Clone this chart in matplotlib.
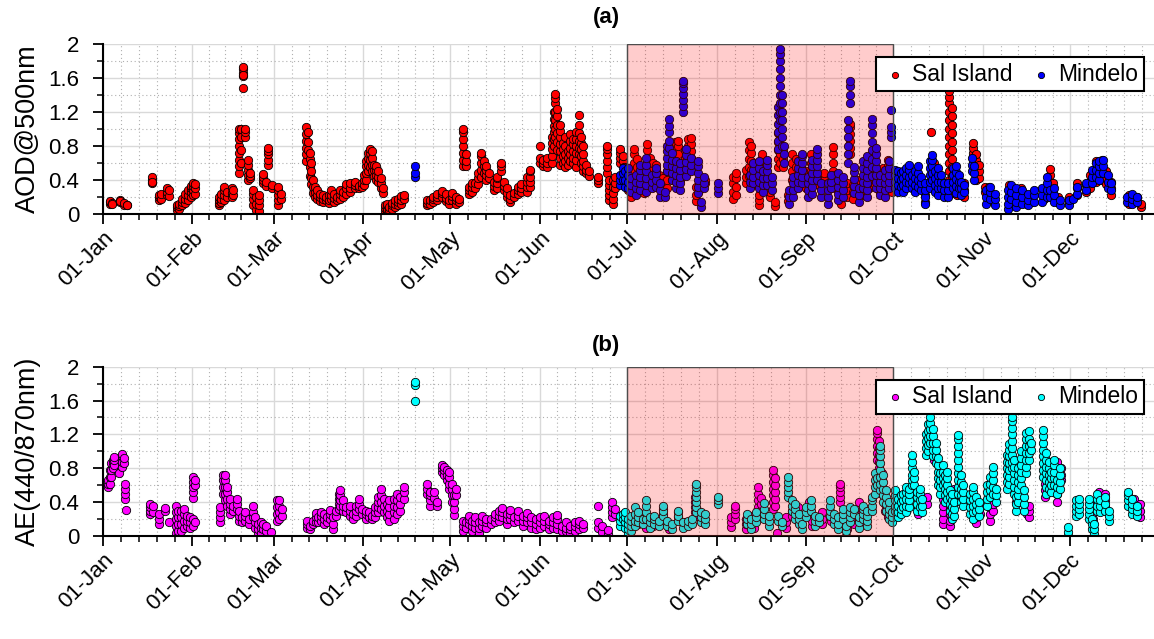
import matplotlib
matplotlib.use('Agg')
import matplotlib.pyplot as plt
import matplotlib.transforms as mtransforms
from matplotlib.ticker import FixedLocator, FormatStrFormatter

plt.rcParams['font.family'] = ['Liberation Sans', 'DejaVu Sans']

# day of year (0 = 01-Jan) and the values measured on that day
sal_aod = [
    (2.5, [0.12, 0.14, 0.15]), (3.2, [0.13, 0.12]), (6, [0.14, 0.16, 0.15]), (7.5, [0.11, 0.13]),
    (8.3, [0.10, 0.11]), (17, [0.36, 0.40, 0.44, 0.38]), (19.3, [0.17, 0.20, 0.22]), (20, [0.18, 0.24]),
    (22.3, [0.22, 0.26, 0.30]), (23, [0.21, 0.28]), (25.5, [0.05, 0.08, 0.10]), (26.5, [0.06, 0.09, 0.12]),
    (27.5, [0.10, 0.14, 0.18]), (28.5, [0.13, 0.18, 0.24]), (29.5, [0.17, 0.22, 0.28]),
    (30.5, [0.20, 0.26, 0.30, 0.33]), (31.3, [0.22, 0.28, 0.33, 0.37]), (31.8, [0.24, 0.30, 0.35]),
    (40, [0.10, 0.13, 0.17, 0.20]), (41, [0.14, 0.18, 0.24]), (42, [0.17, 0.22, 0.28, 0.32]),
    (43, [0.20, 0.26]), (44.5, [0.20, 0.25, 0.30]), (45, [0.22, 0.28]),
    (47, [0.48, 0.56, 0.64, 0.72, 0.80, 0.88, 0.95, 1.00]), (47.6, [0.60, 0.75, 0.90, 1.00]),
    (48.3, [1.48, 1.62, 1.66, 1.70]), (48.6, [1.64, 1.73]), (49.3, [0.90, 0.96, 1.00]),
    (50.2, [0.40, 0.46, 0.52, 0.58, 0.64]), (51, [0.42, 0.45, 0.48]), (52, [0.10, 0.18, 0.24, 0.28]),
    (53, [0.05, 0.12, 0.20]), (54, [0.03, 0.10, 0.16, 0.22]), (55.3, [0.36, 0.40, 0.44, 0.47]),
    (56.3, [0.33, 0.38]), (57.2, [0.58, 0.64, 0.70, 0.74, 0.78]), (58.5, [0.30, 0.34]),
    (60.5, [0.10, 0.16, 0.22, 0.28, 0.32]), (61.5, [0.18, 0.24]),
    (70.3, [0.62, 0.70, 0.78, 0.86, 0.94, 1.02]), (70.8, [0.75, 0.85, 0.96]),
    (71.5, [0.45, 0.55, 0.65, 0.72]), (72, [0.35, 0.42, 0.50, 0.60]), (72.7, [0.25, 0.32, 0.40]),
    (73.3, [0.20, 0.26, 0.32]), (74, [0.18, 0.22, 0.28]), (75, [0.15, 0.20, 0.24]),
    (76, [0.14, 0.18, 0.22]), (77, [0.16, 0.20]), (78, [0.13, 0.17, 0.22]), (79, [0.18, 0.22, 0.28]),
    (80, [0.14, 0.19, 0.24]), (81, [0.16, 0.20]), (82, [0.18, 0.23, 0.28]), (83, [0.20, 0.26]),
    (84, [0.24, 0.30, 0.35]), (85.5, [0.26, 0.31, 0.36]), (87, [0.30, 0.34, 0.38]), (88.5, [0.30, 0.33]),
    (89.5, [0.32, 0.36]), (90.3, [0.34, 0.40, 0.46]), (91, [0.40, 0.48, 0.56, 0.62]),
    (91.7, [0.50, 0.58, 0.66, 0.72]), (92.3, [0.55, 0.64, 0.72, 0.77]), (93, [0.50, 0.58, 0.66, 0.74]),
    (93.7, [0.45, 0.52, 0.58]), (94.5, [0.40, 0.46, 0.52, 0.56]), (95.2, [0.38, 0.44, 0.50]),
    (96, [0.30, 0.36, 0.42]), (96.8, [0.25, 0.30]), (97.5, [0.03, 0.07, 0.11]),
    (98.3, [0.03, 0.06, 0.10, 0.12]), (99, [0.05, 0.08]), (100, [0.06, 0.10, 0.13]),
    (101, [0.08, 0.12, 0.16]), (102, [0.10, 0.14, 0.18]), (103, [0.12, 0.17, 0.21]), (104, [0.18, 0.22]),
    (112, [0.10, 0.13, 0.16]), (113, [0.12, 0.16]), (114, [0.14, 0.18, 0.20]), (115.5, [0.16, 0.20, 0.24]),
    (117, [0.20, 0.25, 0.27]), (118.5, [0.15, 0.19, 0.23]), (119.5, [0.12, 0.17]),
    (120.5, [0.16, 0.21, 0.25]), (122, [0.12, 0.16, 0.20]), (123, [0.14, 0.18]),
    (124.5, [0.56, 0.64, 0.72, 0.80, 0.88, 0.96, 1.00]), (125.3, [0.56, 0.62, 0.70]),
    (126.5, [0.24, 0.28, 0.32]), (127.5, [0.26, 0.32, 0.36]), (128.5, [0.30, 0.36]),
    (129.5, [0.35, 0.42, 0.48]), (130.5, [0.44, 0.52, 0.60, 0.68, 0.72]), (131.5, [0.48, 0.56, 0.62]),
    (132.5, [0.40, 0.46, 0.52, 0.56]), (133.5, [0.42, 0.48]), (135, [0.28, 0.33, 0.38]),
    (136, [0.30, 0.36, 0.42, 0.44]), (137.5, [0.50, 0.56, 0.60]), (138.5, [0.28, 0.33, 0.38]),
    (139.5, [0.20, 0.25, 0.30]), (140.5, [0.14, 0.18, 0.22]), (142, [0.20, 0.25]),
    (143.5, [0.24, 0.28, 0.32]), (144.5, [0.26, 0.30, 0.35]), (146.5, [0.26, 0.32, 0.38, 0.44]),
    (147.5, [0.32, 0.38, 0.44, 0.50, 0.52]),
    (151, [0.60, 0.66, 0.80]), (152, [0.56, 0.60, 0.64]), (153.5, [0.55, 0.60, 0.66]),
    (155, [0.60, 0.68, 0.76, 0.84, 0.90]), (155.7, [0.80, 0.88, 0.96, 1.04, 1.12, 1.20]),
    (156.3, [0.90, 1.00, 1.10, 1.20, 1.30, 1.36, 1.41]), (157, [0.75, 0.85, 0.95, 1.05, 1.15, 1.24]),
    (158, [0.58, 0.66, 0.74, 0.82, 0.90, 0.98, 1.05]), (158.8, [0.60, 0.68, 0.76, 0.84]),
    (159.5, [0.55, 0.62, 0.70, 0.80, 0.90]), (160.5, [0.58, 0.66, 0.74]),
    (161.5, [0.62, 0.70, 0.78, 0.86, 0.94]), (162.5, [0.60, 0.66, 0.74, 0.82, 0.88]),
    (163.3, [0.55, 0.64, 0.72, 0.80, 0.88, 0.96]), (164.3, [0.70, 0.78, 0.86, 0.95, 1.05, 1.16]),
    (165, [0.60, 0.68, 0.76, 0.84, 0.90]), (166, [0.50, 0.56, 0.62, 0.70, 0.80]),
    (167, [0.48, 0.52, 0.58]), (168, [0.45, 0.50]), (171, [0.36, 0.40, 0.44]),
    (174.3, [0.48, 0.55, 0.62, 0.70, 0.76, 0.80]), (174.8, [0.17, 0.22, 0.28, 0.34, 0.40]),
    (176.3, [0.12, 0.18, 0.25, 0.32, 0.40]), (177, [0.30, 0.36, 0.44]),
    (178.5, [0.60, 0.66, 0.72, 0.76]), (179.5, [0.62, 0.68]), (180, [0.40, 0.48, 0.55]),
    (181.5, [0.28, 0.36, 0.44]), (182.5, [0.20, 0.30, 0.40, 0.50]), (183.5, [0.40, 0.50, 0.60, 0.70, 0.76]),
    (184.5, [0.30, 0.40, 0.55, 0.65]), (185.5, [0.35, 0.45]), (187, [0.25, 0.32, 0.40, 0.48]),
    (188, [0.45, 0.55, 0.65, 0.75, 0.82]), (189, [0.38, 0.48, 0.58, 0.66]), (190, [0.44, 0.52, 0.60]),
    (191, [0.45, 0.52, 0.58]), (192, [0.35, 0.40, 0.46]), (193.5, [0.26, 0.34, 0.42]),
    (195, [0.30, 0.40, 0.50]), (196.5, [0.40, 0.50, 0.60, 0.70]), (197.5, [0.55, 0.65, 0.75, 0.85]),
    (198.5, [0.50, 0.60, 0.70, 0.80, 0.86]), (199.5, [0.40, 0.50, 0.60]), (201, [0.55, 0.65, 0.75]),
    (202, [0.60, 0.70, 0.80, 0.88]), (203, [0.58, 0.66, 0.74, 0.82, 0.89]), (205, [0.15, 0.22, 0.32]),
    (206, [0.28, 0.36]), (208, [0.36, 0.40]), (217.5, [0.18, 0.26, 0.36, 0.44]),
    (218.5, [0.22, 0.32, 0.42, 0.48]), (222, [0.36, 0.44, 0.52]), (223, [0.45, 0.55, 0.65, 0.75, 0.85]),
    (224, [0.42, 0.52, 0.62, 0.72, 0.80]), (225, [0.35, 0.45, 0.55]), (226.5, [0.10, 0.16, 0.22]),
    (227.5, [0.50, 0.58, 0.66, 0.70]), (228.5, [0.42, 0.50, 0.58]), (230.5, [0.20, 0.26]),
    (232, [0.09, 0.14]), (233, [0.55, 0.65, 0.75, 0.85, 0.95]), (234, [0.60, 0.70, 0.80, 0.90, 1.00]),
    (235, [0.55, 0.65, 0.75]), (236.5, [0.15, 0.22]), (238, [0.40, 0.50, 0.60, 0.70]),
    (239.5, [0.45, 0.55, 0.65]), (241, [0.38, 0.46, 0.54]), (243, [0.30, 0.40, 0.50]),
    (244.5, [0.50, 0.60, 0.70]), (246.5, [0.35, 0.44]), (249, [0.40, 0.48]),
    (252, [0.40, 0.50, 0.60, 0.70, 0.79]), (253, [0.30, 0.38, 0.46]), (255, [0.12, 0.20, 0.28]),
    (257, [0.20, 0.28, 0.36]), (258, [0.70, 0.78, 0.86, 0.94, 1.02, 1.06]), (259, [0.18, 0.26, 0.34]),
    (261, [0.25, 0.32, 0.40]), (263, [0.22, 0.30, 0.38, 0.44]), (264.5, [0.30, 0.38, 0.46]),
    (266.5, [0.35, 0.45, 0.55]), (268, [0.28, 0.36, 0.44]), (269.5, [0.30, 0.38, 0.46, 0.54]),
    (271, [0.32, 0.40, 0.48, 0.56, 0.63]), (272.5, [0.26, 0.34]),
    (275, [0.30, 0.38, 0.46]), (278, [0.34, 0.42]), (281, [0.32, 0.40, 0.48]), (284, [0.14, 0.22, 0.30]),
    (286, [0.96]), (287, [0.30, 0.40, 0.50, 0.60]), (289, [0.24, 0.32, 0.40]), (290.5, [0.28, 0.36]),
    (292.3, [0.30, 0.40, 0.50, 0.60, 0.70, 0.80, 0.90, 1.00, 1.10, 1.20, 1.30, 1.38, 1.45]),
    (293.2, [0.25, 0.35, 0.45, 0.55, 0.65, 0.75, 0.85, 0.95, 1.05, 1.15, 1.25]),
    (295, [0.22, 0.30, 0.38]), (297.5, [0.20, 0.28, 0.36]), (300.5, [0.60, 0.66, 0.72, 0.78, 0.83]),
    (301.5, [0.40, 0.48, 0.56, 0.64, 0.70]), (302.5, [0.42, 0.50, 0.58]), (304.5, [0.26, 0.32]),
    (306, [0.16, 0.24, 0.32]), (307.5, [0.15, 0.22]), (313, [0.12, 0.20, 0.28, 0.34]),
    (315, [0.10, 0.18]), (317, [0.14, 0.22, 0.30]), (319, [0.12, 0.20]), (321, [0.14, 0.22]),
    (325, [0.18, 0.26]), (327, [0.30, 0.38, 0.46, 0.53]), (328, [0.20, 0.28, 0.36]), (330, [0.14, 0.20]),
    (333.5, [0.14, 0.20]), (336.5, [0.22, 0.30, 0.36]), (339.5, [0.26, 0.34]), (341, [0.30, 0.38, 0.46]),
    (343, [0.38, 0.46, 0.54, 0.62]), (345, [0.40, 0.48, 0.56, 0.63]), (346.5, [0.35, 0.42, 0.50]),
    (348, [0.22, 0.30, 0.38]), (354.5, [0.12, 0.18, 0.22]), (357, [0.14, 0.20]), (358.5, [0.08, 0.12]),
]

mindelo_aod = [
    (107.8, [0.43, 0.48, 0.57]), (178.6, [0.34, 0.40, 0.46]), (179.5, [0.40, 0.48, 0.54]),
    (180.5, [0.32, 0.40, 0.50]), (181.5, [0.30, 0.38, 0.46, 0.54]), (182.5, [0.26, 0.34, 0.42]),
    (184, [0.22, 0.30, 0.38, 0.46]), (185.5, [0.28, 0.36, 0.44, 0.52, 0.58]),
    (187.5, [0.26, 0.34, 0.42, 0.50, 0.58, 0.66]), (189.5, [0.30, 0.38, 0.46]),
    (191, [0.32, 0.40, 0.48, 0.54]), (192.5, [0.20, 0.28, 0.36]), (194, [0.20, 0.26]),
    (194.8, [0.50, 0.58, 0.66, 0.74, 0.80]), (195.5, [0.78, 0.86, 0.96, 1.04, 1.12]),
    (196.5, [0.40, 0.48, 0.56, 0.64, 0.72]), (198, [0.30, 0.38, 0.46, 0.54, 0.62]),
    (199.3, [0.28, 0.36, 0.44, 0.52, 0.60]), (200.5, [1.20, 1.27, 1.34, 1.41, 1.48, 1.54, 1.57]),
    (201.5, [0.45, 0.53, 0.61, 0.69, 0.77]), (203, [0.50, 0.58, 0.66]),
    (205.5, [0.25, 0.32, 0.40, 0.48, 0.56, 0.62]), (206.5, [0.08, 0.14]), (207.5, [0.30, 0.36, 0.44]),
    (212.5, [0.25, 0.30, 0.36]), (223.5, [0.30, 0.38, 0.46]), (224.5, [0.36, 0.44, 0.52, 0.60]),
    (226.5, [0.30, 0.38, 0.46, 0.54, 0.62]), (228, [0.26, 0.34, 0.42, 0.50]),
    (229.5, [0.34, 0.42, 0.50, 0.58, 0.64]), (231, [0.28, 0.36, 0.44]),
    (233.3, [0.76, 0.86, 0.96, 1.06, 1.16, 1.26]),
    (233.8, [1.10, 1.20, 1.30, 1.40, 1.50, 1.60, 1.70, 1.80, 1.88, 1.94]),
    (234.5, [0.80, 0.90, 1.00, 1.10, 1.20, 1.30, 1.40]), (235.3, [0.60, 0.70, 0.80]),
    (237, [0.12, 0.20, 0.28]), (238.5, [0.20, 0.28, 0.36, 0.44]), (240, [0.30, 0.38, 0.46, 0.54, 0.62]),
    (241.5, [0.36, 0.44, 0.52, 0.60, 0.68, 0.71]), (243.5, [0.20, 0.28, 0.36, 0.44]),
    (245, [0.24, 0.32, 0.40, 0.48, 0.56, 0.64]), (246.5, [0.40, 0.48, 0.56, 0.64, 0.70, 0.76]),
    (248, [0.20, 0.28, 0.36]), (250.5, [0.12, 0.20, 0.28, 0.36]), (251.5, [0.30, 0.38, 0.46]),
    (254, [0.16, 0.24, 0.32, 0.40, 0.48]), (255.5, [0.20, 0.28, 0.36, 0.44]),
    (257.5, [0.60, 0.70, 0.80, 0.90, 1.00, 1.10]), (258, [1.30, 1.40, 1.50, 1.57]),
    (259.5, [0.25, 0.33, 0.41, 0.49, 0.55]), (261, [0.14, 0.22, 0.30]),
    (262.5, [0.30, 0.38, 0.46, 0.54, 0.62]), (264, [0.20, 0.28, 0.36, 0.44, 0.52, 0.60, 0.68]),
    (265.8, [0.45, 0.55, 0.65, 0.75, 0.85, 0.95, 1.05, 1.12]),
    (267, [0.30, 0.38, 0.46, 0.54, 0.62, 0.70, 0.78]), (268.5, [0.22, 0.30, 0.38, 0.46]),
    (270, [0.20, 0.28, 0.36, 0.44, 0.52]), (271.5, [0.30, 0.38, 0.46, 0.54, 0.62]),
    (272.2, [0.90, 0.96, 1.02, 1.22]), (273.5, [0.30, 0.38, 0.46, 0.52]), (274.5, [0.26, 0.34, 0.42, 0.50]),
    (275.5, [0.32, 0.40, 0.48]), (276.5, [0.26, 0.34, 0.42, 0.50]), (277.5, [0.30, 0.38, 0.46, 0.54]),
    (278.5, [0.36, 0.44, 0.52, 0.58]), (279.5, [0.30, 0.38, 0.46]), (280.5, [0.26, 0.34, 0.42, 0.50]),
    (281.5, [0.32, 0.40, 0.48, 0.56]), (282.5, [0.28, 0.36, 0.44]), (284, [0.12, 0.20, 0.28, 0.36]),
    (285.5, [0.30, 0.38, 0.46, 0.54, 0.62]), (286.5, [0.40, 0.48, 0.56, 0.64, 0.69]),
    (287.5, [0.26, 0.34, 0.42, 0.50]), (288.5, [0.22, 0.30, 0.38, 0.46, 0.54]),
    (289.5, [0.30, 0.38, 0.46]), (290.5, [0.20, 0.28, 0.36]), (292, [0.20, 0.28, 0.36]),
    (293.5, [0.30, 0.38, 0.46, 0.54]), (294.5, [0.25, 0.33, 0.41, 0.49, 0.57]),
    (295.5, [0.30, 0.38, 0.46]), (296.5, [0.22, 0.30, 0.38]), (297.5, [0.26, 0.34]),
    (300, [0.50, 0.58, 0.66]), (301, [0.40, 0.48, 0.56]), (305, [0.12, 0.20, 0.28]),
    (306.5, [0.18, 0.26, 0.32]), (308, [0.10, 0.18, 0.24]), (312.5, [0.06, 0.12, 0.20, 0.28]),
    (313.5, [0.18, 0.26, 0.34]), (315.5, [0.08, 0.14, 0.22, 0.30]), (317.5, [0.12, 0.20, 0.28]),
    (319.5, [0.10, 0.16, 0.24]), (321.5, [0.14, 0.22, 0.28]), (324.5, [0.14, 0.22, 0.30]),
    (326, [0.20, 0.28, 0.36, 0.44]), (327.2, [0.20, 0.28]), (328.5, [0.14, 0.22, 0.30]),
    (330.5, [0.10, 0.16]), (333.5, [0.10, 0.16]), (335, [0.18]), (336.5, [0.24, 0.32]),
    (339.5, [0.28, 0.36]), (341.5, [0.36, 0.44, 0.52]), (343, [0.44, 0.52, 0.60]),
    (344, [0.40, 0.48, 0.56, 0.62]), (345.5, [0.48, 0.56, 0.63]), (347, [0.30, 0.38, 0.46]),
    (348.3, [0.28, 0.36]), (353.8, [0.14, 0.20]), (355.3, [0.12, 0.18, 0.24]), (357, [0.14, 0.20]),
]

sal_ae = [
    (2, [0.58, 0.62, 0.66]), (2.5, [0.62, 0.70, 0.78]), (3, [0.70, 0.78, 0.86]), (3.5, [0.80, 0.86, 0.90]),
    (4, [0.84, 0.90, 0.93]), (5.5, [0.74]), (6.5, [0.82, 0.88, 0.94, 0.97]), (7.2, [0.86, 0.92]),
    (7.8, [0.44, 0.50, 0.56, 0.62]), (8, [0.31]), (16.5, [0.26, 0.30, 0.34, 0.38]), (17.3, [0.28, 0.35]),
    (19.3, [0.14, 0.20, 0.26]), (21.5, [0.30, 0.33]), (23, [0.17]), (25.2, [0.04, 0.12, 0.20, 0.28, 0.35]),
    (26, [0.00, 0.06, 0.14, 0.22, 0.30]), (27, [0.06, 0.14, 0.22, 0.30]), (28, [0.10, 0.18, 0.26, 0.32]),
    (29, [0.12, 0.18, 0.24]), (30, [0.10, 0.16, 0.22]), (31.3, [0.12, 0.20, 0.45, 0.52, 0.58, 0.64, 0.70]),
    (32, [0.16, 0.60, 0.66]), (40.5, [0.16, 0.22, 0.28, 0.34]), (41.5, [0.50, 0.58, 0.66, 0.72]),
    (42.2, [0.42, 0.50, 0.58, 0.66, 0.72]), (43, [0.36, 0.44, 0.52, 0.58]), (44, [0.26, 0.32, 0.38, 0.44]),
    (45, [0.30, 0.36]), (46.2, [0.32, 0.38, 0.44]), (47, [0.18, 0.24, 0.30]), (48, [0.16, 0.22]),
    (49, [0.18, 0.24, 0.28]), (50.5, [0.14, 0.20]), (51.8, [0.22, 0.28, 0.36]), (52.5, [0.10, 0.16, 0.22]),
    (53.5, [0.02, 0.08, 0.14]), (54.5, [0.04, 0.10, 0.16]), (55.5, [0.08, 0.14]), (56.5, [0.06, 0.12]),
    (58, [0.05]), (60.3, [0.18, 0.26, 0.34, 0.42]), (61, [0.20, 0.28, 0.36, 0.42]), (61.8, [0.24, 0.32]),
    (70.5, [0.10, 0.14, 0.18]), (71.5, [0.08, 0.12]), (72.5, [0.14, 0.18]), (73.5, [0.16, 0.22, 0.27]),
    (74.5, [0.16, 0.22]), (75.5, [0.18, 0.24, 0.28]), (76.5, [0.14, 0.20, 0.26]), (77.5, [0.16, 0.22]),
    (78.5, [0.20, 0.26, 0.31]), (79.5, [0.08, 0.14, 0.22]), (80.5, [0.24, 0.30]),
    (81.5, [0.32, 0.38, 0.44, 0.50]), (82, [0.36, 0.42, 0.48, 0.54]), (83, [0.30, 0.36, 0.42]),
    (84, [0.28, 0.34]), (85.5, [0.24, 0.30, 0.36]), (86.5, [0.20, 0.26]), (87.5, [0.24, 0.30, 0.36]),
    (88.5, [0.32, 0.38, 0.44]), (89.5, [0.26, 0.32]), (91, [0.20, 0.26, 0.30]), (92, [0.22, 0.28]),
    (93, [0.20, 0.24]), (94, [0.22, 0.28, 0.34]), (95, [0.28, 0.34, 0.40, 0.46]),
    (96, [0.32, 0.40, 0.48, 0.55]), (97, [0.28, 0.36, 0.44]), (98, [0.22, 0.30, 0.38]),
    (99, [0.18, 0.26, 0.34, 0.42]), (100.5, [0.20, 0.28, 0.36, 0.44]), (101.5, [0.26, 0.34, 0.42, 0.50]),
    (102.5, [0.30, 0.38, 0.46]), (104, [0.44, 0.52, 0.58]), (112, [0.50, 0.56, 0.62]),
    (113, [0.36, 0.42, 0.48, 0.52]), (114.5, [0.45, 0.52]), (115.3, [0.35, 0.40]),
    (117, [0.76, 0.80, 0.84]), (118, [0.72, 0.78, 0.82]), (118.8, [0.66, 0.72, 0.78]),
    (119.6, [0.55, 0.62, 0.70, 0.76]), (120.5, [0.40, 0.48, 0.56, 0.62]), (121.3, [0.25, 0.32, 0.40, 0.48]),
    (122, [0.48, 0.55]), (124.5, [0.06, 0.12, 0.18]), (125.5, [0.10, 0.16]), (126.5, [0.14, 0.20, 0.24]),
    (127.5, [0.06, 0.12, 0.18]), (128.5, [0.10, 0.16, 0.22]), (130, [0.04, 0.10, 0.16]),
    (131, [0.12, 0.18, 0.24]), (132.5, [0.10, 0.16, 0.20]), (134, [0.14, 0.20]),
    (135.5, [0.16, 0.22, 0.26]), (137, [0.18, 0.24, 0.30]), (138, [0.22, 0.28, 0.33]),
    (139.5, [0.14, 0.20, 0.26]), (140.5, [0.20, 0.26, 0.31]), (142, [0.16, 0.22]),
    (143.5, [0.18, 0.24, 0.29]), (145, [0.12, 0.18, 0.24]), (146.5, [0.16, 0.22, 0.27]),
    (148, [0.10, 0.16, 0.22]), (149.5, [0.08, 0.14, 0.20]), (151, [0.10, 0.16, 0.22]),
    (152.5, [0.12, 0.18, 0.24]), (154, [0.08, 0.14, 0.18]), (155.5, [0.10, 0.16, 0.22]),
    (157, [0.08, 0.14, 0.20, 0.25]), (158.5, [0.06, 0.12]), (160, [0.06, 0.10, 0.16]),
    (161.5, [0.04, 0.08, 0.12]), (163, [0.06, 0.12, 0.16]), (164.5, [0.08, 0.14, 0.18]),
    (166, [0.10, 0.14]), (171, [0.10, 0.16, 0.35]), (172.5, [0.05, 0.12]), (174.5, [0.02, 0.07]),
    (176, [0.22, 0.28, 0.34, 0.40]), (177, [0.26, 0.32]),
    (181.5, [0.08, 0.14]), (185, [0.14, 0.20, 0.28]), (187.5, [0.10, 0.16]), (190, [0.12, 0.18]),
    (193.5, [0.20, 0.26, 0.32]), (195.5, [0.08, 0.12]), (198.5, [0.22, 0.28]), (201, [0.12, 0.16]),
    (204.5, [0.28, 0.34, 0.40, 0.46]), (205.5, [0.24, 0.30]), (217, [0.11, 0.16, 0.22]),
    (218.3, [0.20, 0.26, 0.32, 0.35]), (222, [0.08, 0.14, 0.20]), (223.5, [0.12, 0.18, 0.24]),
    (225, [0.10, 0.16]), (226.3, [0.27, 0.34, 0.42, 0.50, 0.58]), (227.2, [0.30, 0.38, 0.45]),
    (231.5, [0.32, 0.40, 0.48, 0.56, 0.64, 0.72, 0.78]), (232.3, [0.36, 0.44, 0.52, 0.60, 0.68]),
    (232.7, [0.03]), (236, [0.10, 0.16, 0.22]), (238, [0.24, 0.30]), (240, [0.18, 0.26, 0.34]),
    (243.8, [0.25, 0.32, 0.40]), (245, [0.12, 0.18]), (248.5, [0.14, 0.20, 0.28]), (251.5, [0.18, 0.24]),
    (254.5, [0.40, 0.46, 0.52, 0.58, 0.62]), (255.5, [0.12, 0.18, 0.26]), (257, [0.08, 0.14]),
    (259.5, [0.14, 0.22, 0.30]), (261, [0.20, 0.26, 0.34, 0.40]), (263, [0.16, 0.22]),
    (267.5, [0.90, 0.98, 1.06, 1.14, 1.22, 1.25]), (268.2, [0.80, 0.88, 0.96, 1.04, 1.12]),
    (269, [0.50, 0.58, 0.66, 0.74]), (270, [0.30, 0.38, 0.46]), (271, [0.22, 0.30]),
    (276, [0.30, 0.38]), (281.5, [0.26, 0.34]), (284.5, [0.38, 0.46]), (287, [0.90, 0.98]),
    (290, [0.14, 0.20, 0.28, 0.36, 0.44]), (292.5, [0.12, 0.18, 0.26, 0.34]), (294, [0.40, 0.48, 0.56]),
    (300, [0.40, 0.48]), (301.7, [0.15, 0.22, 0.30, 0.38]), (303, [0.26, 0.34]),
    (306.5, [0.18, 0.26, 0.34, 0.42]), (307.5, [0.30, 0.38, 0.46]), (315.5, [0.40, 0.48, 0.56, 0.64]),
    (319, [0.26, 0.34]), (319.7, [0.23, 0.30, 0.36]), (325.5, [0.46, 0.54, 0.62]),
    (329.5, [0.40, 0.50, 0.60, 0.70, 0.80, 0.88]), (331, [0.66, 0.72, 0.80]), (341, [0.22, 0.30, 0.38]),
    (342, [0.14, 0.20, 0.28, 0.36]), (344, [0.30, 0.38, 0.46, 0.52]), (346, [0.34, 0.42, 0.50]),
    (356, [0.28, 0.36, 0.44]), (358, [0.22, 0.30, 0.38]),
]

mindelo_ae = [
    (107.8, [1.59, 1.78, 1.82]), (178.6, [0.12, 0.18, 0.24]), (179.5, [0.20, 0.26]),
    (180.5, [0.10, 0.16, 0.22, 0.28]), (181.5, [0.02, 0.08, 0.14, 0.20]), (182.5, [0.06, 0.12, 0.18, 0.24]),
    (183.7, [0.12, 0.18, 0.26, 0.34]), (185, [0.16, 0.22, 0.28]), (186.5, [0.14, 0.20]),
    (187.7, [0.20, 0.28, 0.36, 0.42]), (189, [0.10, 0.16, 0.22]), (190.5, [0.14, 0.20, 0.24]),
    (192, [0.12, 0.18]), (193.5, [0.24, 0.30, 0.35]), (195, [0.12, 0.18]), (196.5, [0.08, 0.14]),
    (198.5, [0.18, 0.24, 0.29]), (200.5, [0.10, 0.16]), (202, [0.12, 0.18]), (203.5, [0.14, 0.20]),
    (205, [0.28, 0.34, 0.40, 0.46, 0.52, 0.58, 0.62]), (206.5, [0.16, 0.22, 0.28]),
    (208, [0.14, 0.20, 0.26]), (212.6, [0.38, 0.42, 0.46]), (222.5, [0.14, 0.20, 0.26]),
    (224, [0.08, 0.14, 0.20]), (225.5, [0.16, 0.22, 0.28]), (228.5, [0.20, 0.26, 0.32, 0.39]),
    (230, [0.12, 0.18, 0.24]), (233, [0.18, 0.24]), (234.5, [0.12, 0.16]),
    (236.5, [0.46, 0.52, 0.58, 0.64, 0.70]), (238, [0.30, 0.36, 0.42]), (239, [0.20, 0.26, 0.32, 0.38]),
    (240.5, [0.14, 0.20, 0.26]), (241.5, [0.08, 0.14]), (243, [0.22, 0.28, 0.34]),
    (244.5, [0.30, 0.36, 0.42]), (246, [0.12, 0.18, 0.24]), (247.5, [0.16, 0.22]),
    (251, [0.24, 0.30, 0.36, 0.42]), (252.5, [0.14, 0.20, 0.26]), (254, [0.08, 0.14, 0.22]),
    (255.5, [0.20, 0.26, 0.32]), (256.5, [0.00, 0.06, 0.12]), (258, [0.16, 0.22, 0.28, 0.34]),
    (259.5, [0.26, 0.32]), (261, [0.10, 0.16, 0.22]), (262.5, [0.20, 0.26, 0.32, 0.36]),
    (264, [0.12, 0.18, 0.24, 0.30]), (265.5, [0.30, 0.36, 0.42, 0.46]), (266.5, [0.50, 0.58, 0.66, 0.74]),
    (267.5, [0.60, 0.68]), (268.5, [0.54, 0.62, 0.70, 0.78, 0.86, 0.94, 1.02, 1.06]),
    (269.5, [0.40, 0.48, 0.56, 0.64, 0.72]), (270.5, [0.30, 0.38, 0.46, 0.54]),
    (271.5, [0.20, 0.26, 0.32, 0.40]), (272.5, [0.16, 0.22, 0.28]),
    (273.5, [0.30, 0.36, 0.42, 0.48, 0.54]), (274.5, [0.22, 0.28, 0.36, 0.44]),
    (275.5, [0.26, 0.32, 0.40, 0.48]), (276.5, [0.34, 0.42, 0.50]), (277.5, [0.28, 0.36, 0.44, 0.52, 0.58]),
    (278.5, [0.34, 0.42, 0.50, 0.56]), (279.3, [0.60, 0.66, 0.72, 0.80, 0.88, 0.96]),
    (280.2, [0.60, 0.68, 0.76]), (281, [0.30, 0.38, 0.46, 0.52]), (282.2, [0.34, 0.42, 0.50, 0.56]),
    (283, [0.28, 0.36, 0.44]), (284.2, [0.96, 1.04, 1.12, 1.20]), (285, [1.00, 1.08, 1.16, 1.24, 1.32]),
    (285.8, [1.10, 1.18, 1.26, 1.34, 1.40]), (286.8, [0.94, 1.02, 1.10, 1.18, 1.26]),
    (287.6, [0.86, 0.94, 1.02, 1.10]), (288.4, [0.60, 0.68, 0.76, 0.84, 0.92]),
    (289.2, [0.50, 0.58, 0.66, 0.74]), (290, [0.60, 0.68, 0.76, 0.84]),
    (290.8, [0.40, 0.48, 0.56, 0.64, 0.72]), (291.6, [0.44, 0.52, 0.60, 0.68, 0.76]),
    (292.4, [0.30, 0.38, 0.46, 0.54]), (293.2, [0.20, 0.26, 0.34, 0.42, 0.50]), (294, [0.24, 0.32, 0.40]),
    (295.3, [0.50, 0.58, 0.66, 0.74, 0.82, 0.90, 0.98, 1.06, 1.14, 1.19]),
    (296.2, [0.40, 0.48, 0.56, 0.64, 0.72]), (297, [0.36, 0.44, 0.52, 0.60]),
    (299.5, [0.26, 0.34, 0.42, 0.50]), (300.5, [0.20, 0.28, 0.36, 0.44, 0.52, 0.58]),
    (301.5, [0.30, 0.38, 0.46]), (302.5, [0.24, 0.32, 0.40]), (305.5, [0.36, 0.44, 0.52, 0.60]),
    (306.5, [0.46, 0.54, 0.62, 0.70]), (307.5, [0.50, 0.58, 0.66, 0.74, 0.82]), (308.5, [0.40, 0.48, 0.56]),
    (312.3, [0.56, 0.64, 0.72, 0.80, 0.88, 0.96]), (313, [0.62, 0.70, 0.78, 0.86, 0.94, 1.02, 1.09]),
    (313.8, [0.80, 0.88, 0.96, 1.04, 1.12, 1.20, 1.28, 1.36, 1.41]),
    (314.6, [0.50, 0.58, 0.66, 0.74, 0.82, 0.90]), (315.4, [0.30, 0.38, 0.46]),
    (316.2, [0.40, 0.48, 0.56, 0.64, 0.72, 0.80]), (317, [0.60, 0.68, 0.76, 0.84, 0.92, 1.00]),
    (318, [0.30, 0.38, 0.46, 0.54]), (318.8, [0.74, 0.82, 0.90, 0.98, 1.06, 1.14, 1.22]),
    (319.7, [0.90, 0.98, 1.06, 1.14, 1.24]), (320.5, [1.02, 1.10]),
    (324.8, [0.70, 0.78, 0.86, 0.94, 1.02, 1.10, 1.18, 1.25]),
    (325.6, [0.50, 0.58, 0.66, 0.74, 0.82, 0.90, 0.98]), (326.6, [0.56, 0.64, 0.72, 0.80, 0.88]),
    (327.6, [0.52, 0.60, 0.68, 0.76]), (328.6, [0.60, 0.68, 0.76, 0.84, 0.90]),
    (329.6, [0.50, 0.58, 0.66]), (330.6, [0.56, 0.64, 0.72, 0.80]), (333.2, [0.00, 0.05, 0.11]),
    (336, [0.24, 0.30, 0.36, 0.42]), (337, [0.26, 0.32, 0.38, 0.44]), (340.5, [0.20, 0.26, 0.32, 0.38, 0.44]),
    (341.5, [0.08, 0.14, 0.20]), (342.2, [0.02, 0.08, 0.14]), (343.2, [0.30, 0.36, 0.44, 0.50]),
    (344.5, [0.28, 0.36, 0.42]), (346, [0.30, 0.38, 0.46]), (347.3, [0.18, 0.24, 0.30]),
    (354, [0.36, 0.42, 0.48, 0.52]), (355.5, [0.26, 0.32, 0.38, 0.44]), (357, [0.24, 0.30, 0.36]),
]

# month starts (day of year) and labels
month_days = [0, 31, 59, 90, 120, 151, 181, 212, 243, 273, 304, 334, 365]
month_labels = ['01-Jan', '01-Feb', '01-Mar', '01-Apr', '01-May', '01-Jun',
                '01-Jul', '01-Aug', '01-Sep', '01-Oct', '01-Nov', '01-Dec']
# dust season shading: 01-Jul to 01-Oct
shade_start = 181
shade_end = 273


def expand(cols):
    xs = []
    ys = []
    for day, vals in cols:
        for v in vals:
            xs.append(day)
            ys.append(v)
    return xs, ys


# 4 minor ticks inside each month
minor_days = []
for i in range(len(month_days) - 1):
    a = month_days[i]
    b = month_days[i + 1]
    for k in range(1, 5):
        minor_days.append(a + k * (b - a) / 5.0)

fig = plt.figure(figsize=(11.54, 6.39), dpi=100)
left = 102.7 / 1154
ax1 = fig.add_axes([left, 425 / 639, 1 - left, 170 / 639])
ax2 = fig.add_axes([left, 103 / 639, 1 - left, 169.3 / 639])

panels = [
    (ax1, sal_aod, mindelo_aod, 'red', 'blue', 'AOD@500nm', '(a)', 18),
    (ax2, sal_ae, mindelo_ae, 'magenta', 'cyan', 'AE(440/870nm)', '(b)', 345),
]

# nudge the rotated date labels so their ends sit under the ticks
label_shift = mtransforms.ScaledTranslation(-0.10, 0.05, fig.dpi_scale_trans)

for ax, sal, mind, c1, c2, ylab, title, ty in panels:
    sx, sy = expand(sal)
    mx, my = expand(mind)
    ax.scatter(sx, sy, s=36, c=c1, edgecolors='black', linewidths=0.6, zorder=2, label='Sal Island')
    ax.scatter(mx, my, s=36, c=c2, edgecolors='black', linewidths=0.6, zorder=2, label='Mindelo')

    # shaded period drawn over the points
    ax.axvspan(shade_start, shade_end, facecolor=(1, 0, 0, 0.2), edgecolor=(0.3, 0.3, 0.3),
               linewidth=1.0, zorder=3)

    ax.set_xlim(0, 363)
    ax.set_ylim(0, 2)
    ax.xaxis.set_major_locator(FixedLocator(month_days[:-1]))
    ax.xaxis.set_minor_locator(FixedLocator(minor_days))
    ax.set_xticklabels(month_labels, rotation=45, ha='right', va='top', rotation_mode='anchor', fontsize=16)
    for lab in ax.get_xticklabels():
        lab.set_transform(lab.get_transform() + label_shift)
    ax.yaxis.set_major_locator(FixedLocator([0, 0.4, 0.8, 1.2, 1.6, 2.0]))
    ax.yaxis.set_minor_locator(FixedLocator([0.2, 0.6, 1.0, 1.4, 1.8]))
    ax.yaxis.set_major_formatter(FormatStrFormatter('%g'))
    ax.tick_params(axis='y', labelsize=16)

    ax.grid(which='major', color='#d9d9d9', linewidth=1.0, linestyle='-', zorder=0)
    ax.grid(which='minor', color='#b0b0b0', linewidth=0.8, linestyle=(0, (1, 2.5)), zorder=0)
    ax.set_axisbelow(True)

    ax.tick_params(which='major', direction='out', length=7, width=1.3, color='black', pad=3)
    ax.tick_params(which='minor', direction='out', length=4, width=1.1, color='black')
    ax.tick_params(axis='y', which='major', pad=10)
    for side in ['top', 'right']:
        ax.spines[side].set_visible(False)
    for side in ['left', 'bottom']:
        ax.spines[side].set_linewidth(1.5)

    ax.set_ylabel(ylab, fontsize=19.5, labelpad=5)

    leg = ax.legend(loc='upper right', bbox_to_anchor=(0.9905, 0.9235), ncol=2, fontsize=16.5,
                    frameon=True, fancybox=False, framealpha=1, edgecolor='black', borderaxespad=0,
                    handletextpad=0.2, columnspacing=0.7, markerscale=0.75, scatterpoints=1,
                    borderpad=0.25, handlelength=1.1)
    leg.get_frame().set_linewidth(1.5)
    leg.set_zorder(5)

    fig.text(606 / 1154, 1 - ty / 639, title, ha='center', va='center', fontsize=16, fontweight='bold')

fig.savefig('out.png', dpi=100)
